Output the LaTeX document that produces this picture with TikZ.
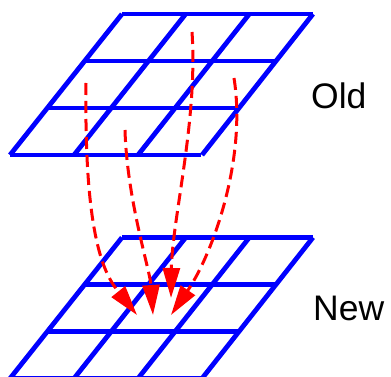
\documentclass[tikz,border=0pt]{standalone}
\usepackage{fontspec}
\setmainfont{Liberation Sans}
\usetikzlibrary{arrows.meta}
\tikzset{
  gridline/.style={draw=blue, line width=4.8pt},
  moveline/.style={draw=red, line width=3pt, dash pattern=on 12pt off 6pt,
    -{Triangle[length=30pt,width=17pt]}},
  label/.style={font=\fontsize{35.5pt}{40pt}\selectfont, inner sep=0pt, anchor=base west}
}
\newcommand{\gridsheet}[1]{%
  \begin{scope}[yshift=-#1pt]
    \foreach \t in {0,1,2,3}{
      \draw[gridline] ({122-112*\t/3},{14+47*\t}) -- ({313-112*\t/3},{14+47*\t});
      \draw[gridline] ({122+191*\t/3},14) -- ({10+192*\t/3},155);
    }
  \end{scope}}
\begin{document}
\begin{tikzpicture}[x=1pt,y=-1pt]
  \useasboundingbox (0,0) rectangle (391,377);
  \gridsheet{0}
  \gridsheet{223.5}
  \coordinate (s1) at (86,83);
  \coordinate (s2) at (125,130);
  \coordinate (s3) at (192,32);
  \coordinate (s4) at (234,78);
  \coordinate (e1) at (137,315);
  \coordinate (e2) at (153,315);
  \coordinate (e3) at (171,298);
  \coordinate (e4) at (171,315);
  \draw[moveline] (s1) .. controls (84,240) and (105,275) .. (e1);
  \draw[moveline] (s2) .. controls (127,200) and (150,270) .. (e2);
  \draw[moveline] (s3) .. controls (198,120) and (172,220) .. (e3);
  \draw[moveline] (s4) .. controls (247,160) and (212,255) .. (e4);
  \node[label] (old) at (311,109) {Old};
  \node[label] (new) at (313,320) {New};
\end{tikzpicture}
\end{document}
